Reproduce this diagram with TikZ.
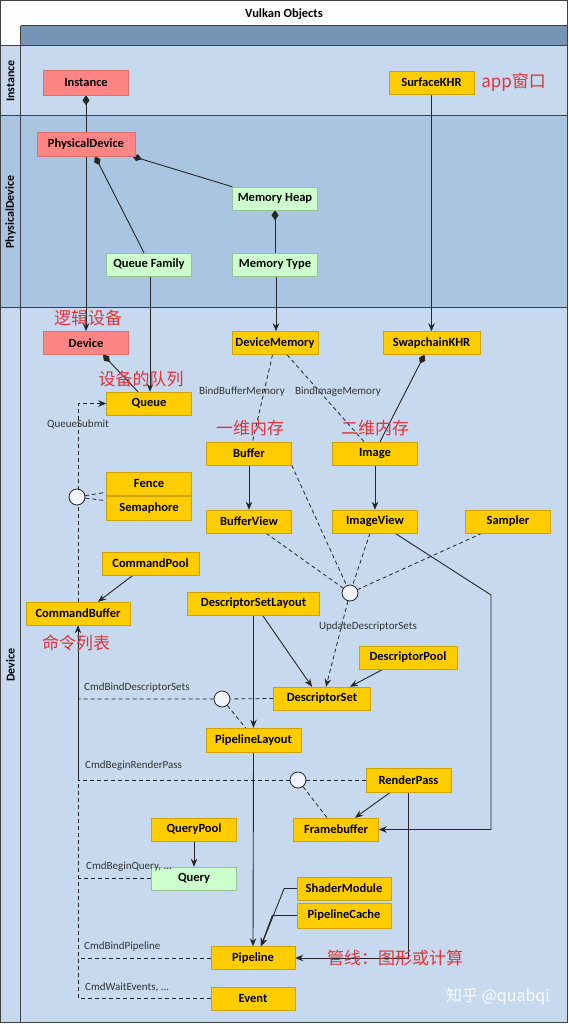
\documentclass[tikz,border=0pt]{standalone}
\usepackage{fontspec}
\setmainfont{Carlito}
\newfontfamily\cjk{Noto Sans CJK SC}
\usetikzlibrary{positioning,arrows.meta}
\definecolor{objgold}{HTML}{FFCC00}
\definecolor{objred}{HTML}{FF8585}
\definecolor{objgreen}{HTML}{CCFFCC}
\definecolor{lanelight}{HTML}{C6D9EF}
\definecolor{lanedark}{HTML}{A9C5E1}
\definecolor{headbar}{HTML}{7694B5}
\definecolor{notered}{HTML}{E0333A}
\definecolor{inkline}{HTML}{262626}
\pgfdeclarelayer{backdrop}
\pgfdeclarelayer{links}
\pgfsetlayers{backdrop,links,main}
\tikzset{
  flowarrow/.style={-{Stealth[length=8pt,width=6.5pt]}, draw=inkline, line width=0.9pt},
  owns/.style={{Diamond[length=10pt,width=7pt]}-, draw=inkline, line width=0.9pt},
  ownsflow/.style={{Diamond[length=10pt,width=7pt]}-{Stealth[length=8pt,width=6.5pt]}, draw=inkline, line width=0.9pt},
  dashlink/.style={draw=inkline, line width=0.8pt, dash pattern=on 4pt off 3pt},
  objbox/.style={draw=objgold!80!black, line width=0.5pt, fill=objgold, minimum width=85pt, minimum height=23pt, inner sep=0pt, font=\bfseries\fontsize{12.5}{12.5}\selectfont},
  rootbox/.style={objbox, fill=objred, draw=objred!85!black},
  infobox/.style={objbox, fill=objgreen, draw=objgreen!75!black},
  joint/.style={circle, draw=inkline, line width=0.8pt, fill=white!75!lanelight, minimum size=16pt, inner sep=0pt},
  cmdlabel/.style={text=black!80, font=\fontsize{11}{11}\selectfont, inner sep=0pt},
  cnote/.style={text=notered, font=\cjk\fontsize{17}{17}\selectfont, inner sep=0pt},
  lanelabel/.style={rotate=90, font=\bfseries\fontsize{12}{12}\selectfont}
}

\begin{document}
\begin{tikzpicture}[x=1pt, y=-1pt]
  \useasboundingbox (0,0) rectangle (568,1024);
  \begin{pgfonlayer}{backdrop}
    \fill[white!96!lanelight] (0,0) rectangle (568,1024);
    \fill[lanelight] (0,46) rectangle (568,116);
    \fill[lanedark] (0,116) rectangle (568,307);
    \fill[lanelight] (0,307) rectangle (568,1022);
    \fill[headbar] (20.6,26) rectangle (568,46);
    \draw[black!75, line width=0.8pt] (0.4,0.4) rectangle (567.6,1022.5);
    \draw[black!75, line width=1pt] (20.6,26) -- (568,26) (0,46) -- (568,46)
      (0,116) -- (568,116) (0,307) -- (568,307) (20.6,26) -- (20.6,1022.5);
  \end{pgfonlayer}

  \node[font=\bfseries\fontsize{12.5}{12.5}\selectfont] (title) at (284,14) {Vulkan Objects};
  \node[lanelabel] (laneinst) at (10.5,81) {Instance};
  \node[lanelabel] (lanepdev) at (10.5,212) {PhysicalDevice};
  \node[lanelabel] (lanedev) at (10.5,665) {Device};

  % instance lane
  \node[rootbox, minimum height=25pt] (inst) at (86,82.5) {Instance};
  \node[objbox] (surf) at (431.5,82.5) {SurfaceKHR};
  \node[cnote] (surfnote) at (513.6,82) {app窗口};

  % physical device lane
  \node[rootbox, minimum width=98pt, minimum height=24pt] (pdev) at (86,144) {PhysicalDevice};
  \node[infobox] (heap) at (275,198.5) {Memory Heap};
  \node[infobox] (qfam) at (149,264.5) {Queue Family};
  \node[infobox] (mtype) at (275,264.5) {Memory Type};

  % device lane
  \node[rootbox] (dev) at (86,343) {Device};
  \node[cnote] (devnote) at (88,318) {逻辑设备};
  \node[objbox, minimum width=86pt] (dmem) at (275,343) {DeviceMemory};
  \node[objbox, minimum width=97pt] (swap) at (431.5,343) {SwapchainKHR};
  \node[objbox] (queue) at (149,403.5) {Queue};
  \node[cnote] (queuenote) at (141,379) {设备的队列};
  \node[objbox] (buf) at (249,453.5) {Buffer};
  \node[objbox] (img) at (375,453.5) {Image};
  \node[cnote] (bufnote) at (250,428) {一维内存};
  \node[cnote] (imgnote) at (375,428) {二维内存};
  \node[objbox] (fence) at (149,483.5) {Fence};
  \node[objbox, minimum height=24pt] (sema) at (149,508) {Semaphore};
  \node[objbox] (bview) at (249,521.5) {BufferView};
  \node[objbox] (iview) at (375,521.5) {ImageView};
  \node[objbox] (samp) at (508,521.5) {Sampler};
  \node[objbox, minimum width=97pt] (cpool) at (150.5,563.5) {CommandPool};
  \node[objbox, minimum width=132pt] (dsl) at (253.5,603.5) {DescriptorSetLayout};
  \node[objbox, minimum width=104pt] (cbuf) at (78,613.5) {CommandBuffer};
  \node[cnote] (cbufnote) at (76,643) {命令列表};
  \node[objbox, minimum width=98pt] (dpool) at (408,657.5) {DescriptorPool};
  \node[objbox, minimum width=97pt] (dset) at (322,698.5) {DescriptorSet};
  \node[objbox, minimum width=95pt, minimum height=24pt] (play) at (253.5,740) {PipelineLayout};
  \node[objbox, minimum height=24pt] (rpass) at (408.5,780) {RenderPass};
  \node[objbox] (fbuf) at (336,829.5) {Framebuffer};
  \node[objbox] (qpool) at (194,829.5) {QueryPool};
  \node[infobox] (query) at (194,878.5) {Query};
  \node[objbox, minimum width=94pt] (shmod) at (344,888.5) {ShaderModule};
  \node[objbox, minimum width=94pt, minimum height=25pt] (pcache) at (344,915.5) {PipelineCache};
  \node[objbox, minimum width=84pt] (pipe) at (253,958) {Pipeline};
  \node[cnote] (pipenote) at (395,958) {管线：图形或计算};
  \node[objbox, minimum width=84pt] (event) at (253,998.5) {Event};

  \node[joint] (jsync) at (77,497) {};
  \node[joint] (jdesc) at (350,593) {};
  \node[joint] (jbind) at (222,699) {};
  \node[joint] (jpass) at (298,780) {};

  \node[cmdlabel] (lbbind) at (242,392) {BindBufferMemory};
  \node[cmdlabel] (libind) at (338,392) {BindImageMemory};
  \node[cmdlabel] (lsubmit) at (78,424) {QueueSubmit};
  \node[cmdlabel] (lupdate) at (368,627) {UpdateDescriptorSets};
  \node[cmdlabel, anchor=west] (lbindset) at (84,688) {CmdBindDescriptorSets};
  \node[cmdlabel, anchor=west] (lbeginrp) at (85,766) {CmdBeginRenderPass};
  \node[cmdlabel, anchor=west] (lbeginq) at (86,867) {CmdBeginQuery, ...};
  \node[cmdlabel, anchor=west] (lbindpipe) at (84,947) {CmdBindPipeline};
  \node[cmdlabel, anchor=west] (lwait) at (85,987) {CmdWaitEvents, ...};

  \node[text=white, opacity=0.9, font=\cjk\fontsize{16}{16}\selectfont] (mark) at (498,997) {知乎 @quabqi};

  \begin{pgfonlayer}{links}
    \draw[ownsflow] (inst.south) -- (dev.north);
    \draw[flowarrow] (surf.south) -- (swap.north);
    \draw[owns] ([xshift=9pt]pdev.south) -- ([xshift=-5pt]qfam.north);
    \draw[owns] ([xshift=-3pt]pdev.south east) -- (heap.north west);
    \draw[owns] (heap.south) -- (mtype.north);
    \draw[flowarrow] ([xshift=1pt]qfam.south) -- ([xshift=1pt]queue.north);
    \draw[flowarrow] ([xshift=1pt]mtype.south) -- ([xshift=1pt]dmem.north);
    \draw[owns] ([xshift=17pt]dev.south) -- ([xshift=-11pt]queue.north);
    \draw[owns] ([xshift=-7pt]swap.south) -- ([xshift=5pt]img.north);
    \draw[dashlink] ([xshift=-2.5pt]dmem.south) -- ([xshift=3.5pt]buf.north);
    \draw[dashlink] ([xshift=12pt]dmem.south) -- ([xshift=-11pt]img.north);
    \draw[flowarrow] (buf) -- (bview);
    \draw[flowarrow] (img) -- (iview);
    \draw[dashlink, -{Stealth[length=8pt,width=6.5pt]}] (cbuf.north) |- (queue.west);
    \draw[dashlink] (jsync) -- ([yshift=3pt]fence.south west);
    \draw[dashlink] (jsync) -- ([yshift=-5pt]sema.north west);
    \draw[flowarrow] ([xshift=-17.5pt]cpool.south) -- ([xshift=20pt]cbuf.north);
    \draw[dashlink] ([xshift=17pt]bview.south) -- (jdesc);
    \draw[dashlink] (buf.south east) -- (jdesc);
    \draw[dashlink] ([xshift=-5pt]iview.south) -- (jdesc);
    \draw[dashlink] ([xshift=-26pt]samp.south) -- (jdesc);
    \coordinate (ivbend) at (491,595);
    \draw[flowarrow] ([xshift=20pt]iview.south) -- (ivbend) |- (fbuf.east);
    \draw[dashlink, -{Stealth[length=8pt,width=6.5pt]}] (jdesc) -- ([xshift=4pt]dset.north);
    \draw[flowarrow] (dsl.south) -- (play.north);
    \draw[flowarrow] ([xshift=9pt]dsl.south) -- ([xshift=-10pt]dset.north);
    \draw[flowarrow] ([xshift=-25pt]dpool.south) -- ([xshift=28pt]dset.north);
    \draw[dashlink] (dset.west) -- (jbind) -- (jbind -| cbuf.south);
    \draw[dashlink] (jbind) -- ([xshift=-8pt]play.north);
    \draw[dashlink] (rpass.west) -- (jpass) -- (jpass -| cbuf.south);
    \draw[dashlink] (jpass) -- ([xshift=-9pt]fbuf.north);
    \draw[flowarrow] ([xshift=-18pt]rpass.south) -- ([xshift=19pt]fbuf.north);
    \draw[flowarrow] (rpass.south) |- (pipe.east);
    \draw[flowarrow] (qpool) -- (query);
    \draw[flowarrow] (play.south) -- (pipe.north);
    \draw[flowarrow] (shmod.west) -- ++(-12.6,0) -- ([xshift=8pt]pipe.north);
    \draw[flowarrow] (pcache.west) -- ++(-24.5,0) -- ([xshift=8pt]pipe.north);
    \draw[dashlink] (query.west) -- (query -| cbuf.south);
    \draw[dashlink] (pipe.west) -- (pipe -| cbuf.south);
    \draw[dashlink] (event.west) -| (jpass -| cbuf.south);
    \draw[flowarrow] (jpass -| cbuf.south) -- (cbuf.south);
  \end{pgfonlayer}
\end{tikzpicture}
\end{document}
